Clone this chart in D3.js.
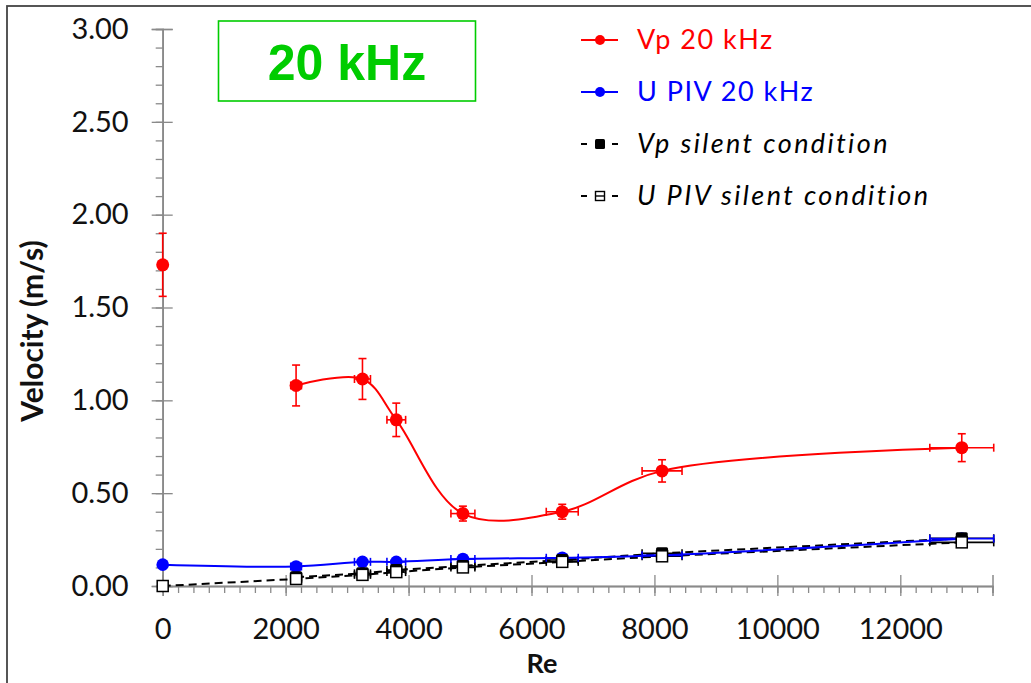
<!DOCTYPE html>
<html>
<head>
<meta charset="utf-8">
<script src="https://cdn.jsdelivr.net/npm/d3@7"></script>
<style>
  html, body { margin: 0; padding: 0; background: #fff; }
  svg { display: block; }
  .tick text { font-family: Lato, "Open Sans", sans-serif; fill: #111; }
</style>
</head>
<body>
<svg id="chart" width="1031" height="683"></svg>
<script>
// Reynolds numbers of the measurement runs
const re = [0, 2170, 3250, 3800, 4884, 6500, 8124, 13000];
// Horizontal uncertainty on Re
const reErr = [0, 87, 130, 152, 195, 260, 325, 520];

// Vp at 20 kHz (m/s) and its uncertainty
const vp20 = [1.73, 1.08, 1.115, 0.895, 0.39, 0.40, 0.62, 0.745];
const vp20Err = [0.17, 0.11, 0.11, 0.09, 0.04, 0.04, 0.06, 0.075];

// U PIV at 20 kHz (m/s)
const upiv20 = [0.115, 0.105, 0.13, 0.13, 0.145, 0.152, 0.165, 0.255];
const upiv20Err = [0.01, 0.01, 0.01, 0.01, 0.01, 0.01, 0.01, 0.01];

// Silent condition (no ultrasound)
const vpSilentRe = [2170, 3250, 3800, 4884, 6500, 8124, 13000];
const vpSilent = [0.047, 0.068, 0.086, 0.108, 0.14, 0.176, 0.257];
const vpSilentReErr = [87, 130, 152, 195, 260, 325, 520];
const upivSilent = [0, 0.038, 0.06, 0.075, 0.10, 0.13, 0.16, 0.235];

// Axis ticks
const yTicks = [0, 0.5, 1.0, 1.5, 2.0, 2.5, 3.0];
const xTicks = [0, 2000, 4000, 6000, 8000, 10000, 12000];

const legendItems = [
  { label: "Vp 20 kHz", color: "#ff0000", kind: "circle", italic: false },
  { label: "U PIV 20 kHz", color: "#0000ff", kind: "circle", italic: false },
  { label: "Vp silent condition", color: "#000", kind: "filled", italic: true },
  { label: "U PIV silent condition", color: "#000", kind: "open", italic: true }
];

const svg = d3.select("#chart");
const font = "Lato, 'Open Sans', sans-serif";

// outer frame (only its top and left edges fall inside the view)
svg.append("rect")
  .attr("x", 7).attr("y", 6).attr("width", 1100).attr("height", 800)
  .attr("fill", "none").attr("stroke", "#444").attr("stroke-width", 1.8);

const x = d3.scaleLinear().domain([0, 13500]).range([162.7, 992.5]);
const y = d3.scaleLinear().domain([0, 3]).range([586, 29]);
const axisColor = "#8a8a8a";

function styleAxis(g) {
  g.selectAll(".domain").attr("stroke", axisColor).attr("stroke-width", 1.5);
  g.selectAll(".tick line").attr("stroke", axisColor).attr("stroke-width", 1.3);
}

// Y axis: minor ticks every 0.1, major every 0.5 crossing the line
svg.append("g").attr("transform", `translate(${x(0)},0)`)
  .call(d3.axisLeft(y).tickValues(d3.range(0, 3.001, 0.1)).tickSize(7).tickFormat(""))
  .call(styleAxis);
svg.append("g").attr("transform", `translate(${x(0)},0)`)
  .call(d3.axisRight(y).tickValues(yTicks).tickSize(10).tickFormat(""))
  .call(styleAxis);
const yAxisG = svg.append("g").attr("transform", `translate(${x(0)},0)`)
  .call(d3.axisLeft(y).tickValues(yTicks).tickSize(11).tickPadding(23).tickFormat(d3.format(".2f")))
  .call(styleAxis);
yAxisG.selectAll(".tick text").attr("font-size", 29).attr("font-family", font);

// X axis: minor ticks every 250, major every 2000 crossing the line
svg.append("g").attr("transform", `translate(0,${y(0)})`)
  .call(d3.axisBottom(x).tickValues(d3.range(0, 13501, 250)).tickSize(7).tickFormat(""))
  .call(styleAxis);
svg.append("g").attr("transform", `translate(0,${y(0)})`)
  .call(d3.axisTop(x).tickValues(xTicks).tickSize(11).tickFormat(""))
  .call(styleAxis);
const xAxisG = svg.append("g").attr("transform", `translate(0,${y(0)})`)
  .call(d3.axisBottom(x).tickValues(xTicks).tickSize(10).tickPadding(22).tickFormat(d3.format("d")))
  .call(styleAxis);
xAxisG.selectAll(".tick text").attr("font-size", 29).attr("font-family", font);

// axis titles
svg.append("text")
  .attr("transform", "translate(43,331) rotate(-90)")
  .attr("text-anchor", "middle").attr("font-family", font).attr("font-weight", 700)
  .attr("font-size", 30).attr("fill", "#111").text("Velocity (m/s)");
svg.append("text")
  .attr("x", 542).attr("y", 673)
  .attr("text-anchor", "middle").attr("font-family", font).attr("font-weight", 700)
  .attr("font-size", 27).attr("fill", "#111").text("Re");

// title box
svg.append("rect").attr("x", 218.5).attr("y", 21).attr("width", 257).attr("height", 80)
  .attr("fill", "none").attr("stroke", "#00cc00").attr("stroke-width", 1.6);
svg.append("text").attr("x", 347).attr("y", 80).attr("text-anchor", "middle")
  .attr("font-family", "'Liberation Sans', Arial, sans-serif").attr("font-weight", 700)
  .attr("font-size", 50).attr("fill", "#00cc00").text("20 kHz");

const plot = svg.append("g");

function errorBars(g, xs, ys, xe, ye, color) {
  const cap = 4;
  xs.forEach((xv, i) => {
    const cx = x(xv), cy = y(ys[i]);
    if (xe && xe[i] > 0) {
      const x0 = x(xv - xe[i]), x1 = x(xv + xe[i]);
      g.append("line").attr("x1", x0).attr("x2", x1).attr("y1", cy).attr("y2", cy)
        .attr("stroke", color).attr("stroke-width", 1.6);
      [x0, x1].forEach(xx => g.append("line").attr("x1", xx).attr("x2", xx)
        .attr("y1", cy - cap).attr("y2", cy + cap).attr("stroke", color).attr("stroke-width", 1.6));
    }
    if (ye && ye[i] > 0) {
      const y0 = y(ys[i] - ye[i]), y1 = y(ys[i] + ye[i]);
      g.append("line").attr("x1", cx).attr("x2", cx).attr("y1", y0).attr("y2", y1)
        .attr("stroke", color).attr("stroke-width", 1.6);
      [y0, y1].forEach(yy => g.append("line").attr("x1", cx - cap).attr("x2", cx + cap)
        .attr("y1", yy).attr("y2", yy).attr("stroke", color).attr("stroke-width", 1.6));
    }
  });
}

const smooth = d3.line().x(d => x(d[0])).y(d => y(d[1])).curve(d3.curveCatmullRom.alpha(0.5));
const straight = d3.line().x(d => x(d[0])).y(d => y(d[1]));

// silent condition series (dashed)
const upivSilentPts = re.map((r, i) => [r, upivSilent[i]]);
const vpSilentPts = vpSilentRe.map((r, i) => [r, vpSilent[i]]);
plot.append("path").attr("d", straight(upivSilentPts)).attr("fill", "none")
  .attr("stroke", "#000").attr("stroke-width", 2).attr("stroke-dasharray", "8,5");
plot.append("path").attr("d", straight(vpSilentPts)).attr("fill", "none")
  .attr("stroke", "#000").attr("stroke-width", 2).attr("stroke-dasharray", "8,5");
errorBars(plot, re, upivSilent, reErr, null, "#000");
errorBars(plot, vpSilentRe, vpSilent, vpSilentReErr, null, "#000");

// U PIV 20 kHz
const upivPts = re.map((r, i) => [r, upiv20[i]]);
plot.append("path").attr("d", smooth(upivPts)).attr("fill", "none")
  .attr("stroke", "#0000ff").attr("stroke-width", 2);
errorBars(plot, re, upiv20, reErr, upiv20Err, "#0000ff");

// Vp 20 kHz (curve joins the runs with flow, Re > 0)
const vpPts = re.map((r, i) => [r, vp20[i]]).filter(d => d[0] > 0);
plot.append("path").attr("d", smooth(vpPts)).attr("fill", "none")
  .attr("stroke", "#ff0000").attr("stroke-width", 2);
errorBars(plot, re, vp20, reErr, vp20Err, "#ff0000");

// markers
plot.selectAll(".mk-upiv").data(upivPts).join("circle")
  .attr("cx", d => x(d[0])).attr("cy", d => y(d[1])).attr("r", 6.3).attr("fill", "#0000ff");
plot.selectAll(".mk-vps").data(vpSilentPts).join("rect")
  .attr("x", d => x(d[0]) - 6).attr("y", d => y(d[1]) - 6)
  .attr("width", 12).attr("height", 12).attr("rx", 1.5).attr("fill", "#000");
plot.selectAll(".mk-ups").data(upivSilentPts).join("rect")
  .attr("x", d => x(d[0]) - 5.5).attr("y", d => y(d[1]) - 5.5)
  .attr("width", 11).attr("height", 11).attr("fill", "#fff")
  .attr("stroke", "#000").attr("stroke-width", 1.5);
plot.selectAll(".mk-vp").data(re.map((r, i) => [r, vp20[i]])).join("circle")
  .attr("cx", d => x(d[0])).attr("cy", d => y(d[1])).attr("r", 6.5).attr("fill", "#ff0000");

// legend
const lg = svg.append("g");
legendItems.forEach((it, i) => {
  const cy = 40 + i * 52;
  const g = lg.append("g");
  if (it.kind === "circle") {
    g.append("line").attr("x1", 581).attr("x2", 618).attr("y1", cy).attr("y2", cy)
      .attr("stroke", it.color).attr("stroke-width", 2);
    g.append("circle").attr("cx", 600).attr("cy", cy).attr("r", 5).attr("fill", it.color);
  } else {
    [[581, 587], [612, 618]].forEach(([a, b]) => g.append("line")
      .attr("x1", a).attr("x2", b).attr("y1", cy).attr("y2", cy)
      .attr("stroke", "#000").attr("stroke-width", 2));
    if (it.kind === "filled") {
      g.append("rect").attr("x", 595).attr("y", cy - 5).attr("width", 10).attr("height", 10)
        .attr("rx", 1.5).attr("fill", "#000");
    } else {
      g.append("rect").attr("x", 595.5).attr("y", cy - 4.5).attr("width", 9).attr("height", 9)
        .attr("fill", "#fff").attr("stroke", "#000").attr("stroke-width", 1.4);
      g.append("line").attr("x1", 595).attr("x2", 605).attr("y1", cy).attr("y2", cy)
        .attr("stroke", "#000").attr("stroke-width", 1.4);
    }
  }
  g.append("text").attr("x", 637).attr("y", cy + 9)
    .attr("font-family", font).attr("font-size", 27)
    .attr("letter-spacing", it.italic ? 2.4 : 1.5)
    .attr("font-style", it.italic ? "italic" : "normal")
    .attr("fill", it.color).text(it.label);
});
</script>
</body>
</html>
